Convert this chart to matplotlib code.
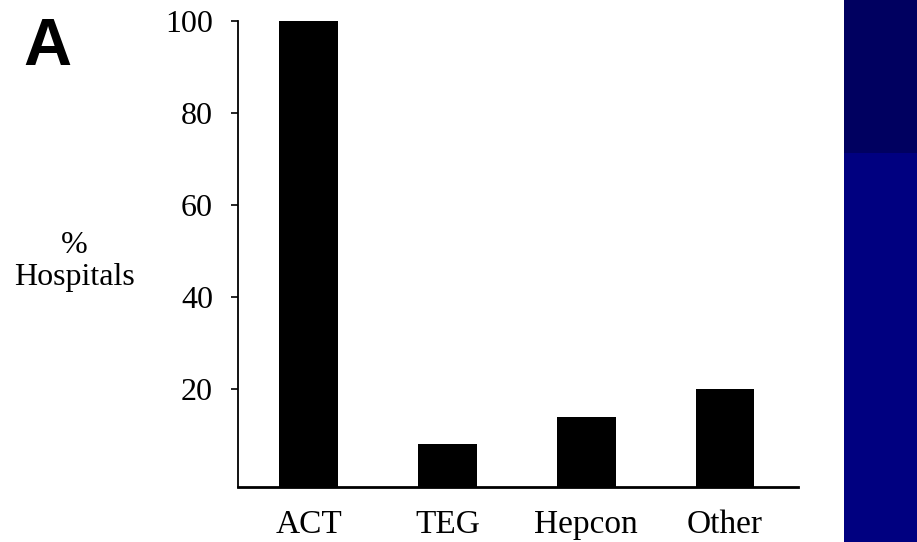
import matplotlib.pyplot as plt
from matplotlib.patches import Rectangle

plt.rcParams['font.family'] = ['Liberation Serif', 'DejaVu Serif']

categories = ['ACT', 'TEG', 'Hepcon', 'Other']
pct_hospitals = [100, 8, 14, 20]
yticks = [20, 40, 60, 80, 100]
y_floor = -1.3  # the x axis sits a little below zero in the original

fig = plt.figure(figsize=(9.17, 5.42), dpi=100, facecolor='white')

# blue slide strip on the right
fig.add_artist(Rectangle((0.920, 0.718), 0.08, 0.282, transform=fig.transFigure,
                         facecolor='#000060', edgecolor='none'))
fig.add_artist(Rectangle((0.920, 0), 0.08, 0.718, transform=fig.transFigure,
                         facecolor='#000080', edgecolor='none'))

ax = fig.add_axes([0.2595, 0.1015, 0.6107, 0.8598])
x = range(len(categories))
ax.bar(x, [v - y_floor for v in pct_hospitals], bottom=y_floor,
       width=0.425, color='black')

ax.set_xlim(-0.512, 3.526)
ax.set_ylim(y_floor, 100)
ax.set_xticks(list(x))
ax.set_xticklabels(categories)
ax.set_yticks(yticks)
ax.tick_params(axis='x', length=0, pad=16, labelsize=24)
ax.tick_params(axis='y', length=5, width=1.2, pad=13, labelsize=23)

for s in ['top', 'right']:
    ax.spines[s].set_visible(False)
ax.spines['left'].set_linewidth(1.3)
ax.spines['bottom'].set_linewidth(2)

fig.text(0.081, 0.517, '%\nHospitals', ha='center', va='center',
         fontsize=23, linespacing=1.15)
fig.text(0.052, 0.912, 'A', ha='center', va='center', fontsize=48,
         fontweight='bold', family=['Liberation Sans', 'DejaVu Sans'])

fig.savefig('out.png', dpi=100, facecolor='white')
